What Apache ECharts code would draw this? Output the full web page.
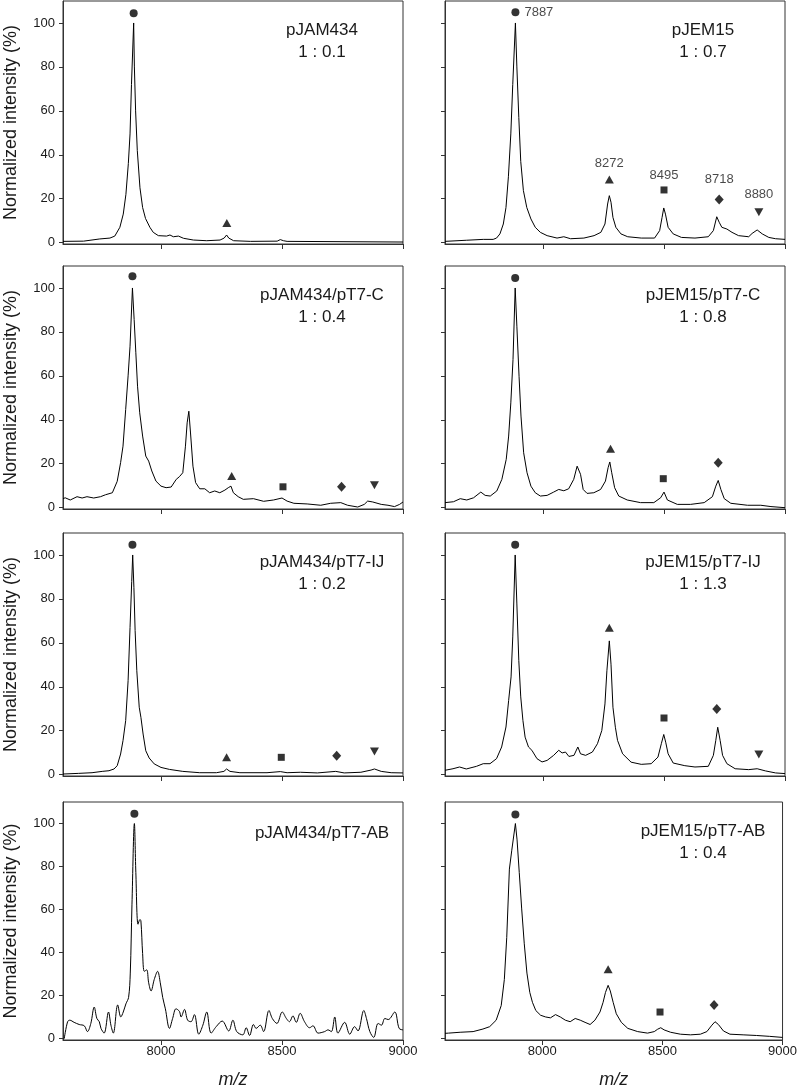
<!DOCTYPE html>
<html>
<head>
<meta charset="utf-8">
<script src="https://cdn.jsdelivr.net/npm/echarts@6/dist/echarts.min.js"></script>
<style>
html,body{margin:0;padding:0;background:#fff;}
#chart{width:800px;height:1090px;}
</style>
</head>
<body>
<div id="chart"></div>
<script>
// ---- Data (m/z, normalized intensity %) ----
const pJAM434 = [[7595,0.6],[7680,0.7],[7747,1.7],[7754,2.1],[7789,2.1],[7809,3],[7830,7],[7844,13],[7855,22],[7865,36],[7872,49.5],[7878,72],[7887,100],[7890,80],[7895,60],[7902,42],[7913,25],[7924,16],[7936,11],[7943,10.8],[7954,7],[7968,4.7],[7989,3.2],[8023,3],[8037,3.5],[8051,2.7],[8072,3],[8093,2],[8134,1.2],[8189,0.9],[8244,1.2],[8261,2.1],[8271,3.5],[8280,2.1],[8300,0.9],[8369,0.6],[8480,0.7],[8493,1.4],[8506,0.9],[8521,0.6],[9000,0.3]];
const pJEM15 = [[7595,0.6],[7683,1.1],[7753,1.5],[7794,1.5],[7808,2.1],[7822,4],[7836,8.5],[7847,16],[7857,30],[7867,49.5],[7875,72],[7886,100],[7892,80],[7900,57],[7908,37],[7919,23.7],[7933,16],[7950,10.8],[7968,7],[7989,4.7],[8017,3.2],[8058,2.1],[8086,2.7],[8114,1.8],[8169,2.1],[8211,3.2],[8239,4.7],[8256,8.5],[8267,17.6],[8274,21.4],[8281,18.4],[8289,11.5],[8301,7],[8322,4],[8350,2.7],[8406,2.1],[8461,2.1],[8482,5.5],[8492,11.5],[8499,15.8],[8506,13],[8517,7],[8538,4],[8572,2.4],[8628,2.1],[8683,2.7],[8704,5.5],[8718,11.8],[8728,9.3],[8739,7],[8760,6.2],[8781,4.7],[8808,3.2],[8850,2.7],[8864,4.2],[8885,5.8],[8906,4],[8933,2.4],[8961,1.8],[9000,1.5]];
const pJAM434_pT7C = [[7595,4.1],[7604,4.5],[7625,3.5],[7653,5],[7674,4.4],[7694,5],[7722,4.4],[7750,5],[7771,5.9],[7799,6.8],[7819,12],[7833,20.5],[7843,28],[7854,44.7],[7864,60],[7872,73.5],[7882,100],[7889,85.6],[7896,70.5],[7903,55.3],[7912,43.2],[7924,32.6],[7937,23.5],[7949,21.2],[7962,16.7],[7979,12.1],[8000,9.8],[8021,9.1],[8042,9.4],[8063,12.9],[8076,14.1],[8090,15.9],[8101,28],[8108,38.6],[8115,43.9],[8122,34],[8132,18.9],[8143,11.4],[8160,8.6],[8181,8.6],[8201,6.8],[8222,7.6],[8243,6.8],[8264,8],[8278,9.1],[8289,9.8],[8299,6.8],[8319,5],[8340,3.8],[8382,4.1],[8424,2.9],[8465,3.5],[8500,4.4],[8521,3],[8549,2],[8604,1.7],[8660,1.1],[8701,2],[8743,2.3],[8771,1.1],[8813,0.3],[8840,1.5],[8854,3],[8875,2.6],[8910,1.5],[8938,1.1],[8965,0.5],[8986,1.5],[9000,2.6]];
const pJEM15_pT7C = [[7595,2.3],[7630,2.7],[7658,4.1],[7685,3.5],[7713,4.5],[7743,7.1],[7761,5.6],[7782,5.3],[7809,7.6],[7830,12.9],[7848,22],[7858,32.6],[7867,47.7],[7876,67.4],[7885,100],[7892,82.6],[7901,59.8],[7909,41.7],[7920,25],[7934,15.9],[7950,9.8],[7968,6.8],[7989,5.3],[8017,5.6],[8044,7.1],[8065,8.3],[8086,7.7],[8106,8.6],[8127,12.9],[8141,18.9],[8148,19.7],[8155,15.2],[8166,8.3],[8182,6.5],[8210,6.8],[8238,8.3],[8258,12.1],[8269,18.2],[8276,20.8],[8284,15.9],[8296,9.1],[8313,5.3],[8348,3.5],[8403,2.3],[8458,2.3],[8486,4.5],[8500,7.1],[8514,3.5],[8555,1.5],[8610,1.5],[8666,2.3],[8700,5],[8714,9.8],[8724,12.4],[8735,8.3],[8749,4.1],[8776,2],[8845,1.1],[8900,1.1],[8942,0.5],[9000,0]];
const pJAM434_pT7IJ = [[7595,0.3],[7660,0.6],[7715,0.9],[7757,1.5],[7785,1.8],[7806,2.6],[7819,4.1],[7833,9.4],[7843,15.5],[7854,24.6],[7864,42.8],[7872,67],[7879,88],[7883,100],[7888,85.3],[7893,65.6],[7900,47.3],[7910,30.7],[7917,26.1],[7926,18.5],[7937,10.9],[7951,7.6],[7972,4.9],[8000,3.3],[8035,2.4],[8090,1.5],[8160,0.9],[8229,0.9],[8260,1.5],[8271,2.6],[8285,1.5],[8326,0.9],[8438,0.9],[8493,1.4],[8521,0.9],[8576,1.1],[8646,0.8],[8722,1.5],[8757,0.8],[8826,1.1],[8868,2.1],[8882,2.6],[8910,1.5],[8951,0.9],[9000,0.8]];
const pJEM15_pT7IJ = [[7595,2],[7628,2.7],[7655,3.5],[7683,2.6],[7725,3.8],[7753,5],[7781,5],[7808,7.3],[7829,12.6],[7847,21.7],[7858,33.8],[7868,44.5],[7875,62.7],[7885,100],[7892,77.7],[7900,51.9],[7908,35.4],[7917,24.7],[7926,17.1],[7940,12.6],[7954,11.1],[7975,7.3],[7996,5.8],[8017,6.5],[8044,8.8],[8065,11.1],[8079,9.9],[8093,10.3],[8107,8.3],[8128,8.8],[8144,12.6],[8155,9.5],[8176,8.8],[8204,10.3],[8225,14.1],[8243,20.1],[8256,32.2],[8264,47.3],[8274,60.9],[8281,50.3],[8289,30.7],[8299,21.6],[8308,15.6],[8329,9.5],[8364,5.7],[8406,4.7],[8447,5],[8475,8],[8489,14.1],[8499,18.3],[8507,14.8],[8517,9.5],[8538,5.3],[8586,4.1],[8628,3.5],[8683,3.8],[8704,8.8],[8714,15.6],[8722,21.6],[8732,15.6],[8742,8.8],[8760,5],[8794,2.7],[8850,2.3],[8885,2.7],[8920,1.7],[8961,0.8],[9000,0.5]];
const pJAM434_pT7AB = [[7600,0],[7614,7.9],[7623,8.6],[7641,7.6],[7662,6.6],[7683,6],[7696,3.3],[7710,7.1],[7724,14.7],[7735,9.4],[7745,7.9],[7752,4.8],[7765,2.6],[7783,12.4],[7793,6.3],[7803,2.6],[7821,15.7],[7834,10.1],[7844,12.4],[7855,16.2],[7866,19.2],[7873,30.5],[7880,62.2],[7890,100],[7896,77.3],[7905,53.2],[7913,55.4],[7917,54.7],[7924,39.6],[7931,31.3],[7941,32],[7949,26],[7959,22.2],[7972,27.5],[7986,31.3],[7997,26],[8007,19.2],[8018,13.9],[8035,4.8],[8048,9.4],[8062,13.9],[8076,12.7],[8083,10.1],[8097,13.6],[8110,8.6],[8124,7.9],[8138,11.2],[8156,2.1],[8173,6.3],[8189,12.4],[8207,2.6],[8228,5.6],[8253,8.2],[8280,3.6],[8297,8.6],[8313,3.3],[8338,1.8],[8352,5.1],[8366,1.5],[8382,6.6],[8393,4.8],[8410,6.3],[8424,3.3],[8446,13.1],[8460,9.4],[8479,7.1],[8501,12.4],[8518,9.4],[8531,7.9],[8545,10.6],[8559,7.6],[8575,11.8],[8593,7.9],[8614,5.1],[8628,6],[8649,2.6],[8676,3.3],[8690,4.1],[8704,3.3],[8718,10.1],[8731,2.6],[8759,7.6],[8780,2.1],[8800,5.6],[8814,3.6],[8838,13.1],[8849,9.4],[8863,3.3],[8879,0.6],[8897,7.1],[8911,6.3],[8925,9.4],[8939,8.9],[8966,12.4],[8984,4.8],[9000,4.1]];
const pJEM15_pT7AB = [[7595,2.5],[7610,2.6],[7658,3],[7712,3.3],[7753,4.5],[7781,5.6],[7808,8.6],[7829,15.4],[7842,27.5],[7852,47.1],[7863,78.8],[7873,87.6],[7881,88.2],[7888,100],[7895,92.4],[7904,77.3],[7914,60.7],[7925,44.1],[7936,30.5],[7948,21.5],[7959,16.9],[7973,13.1],[7993,10.9],[8014,10.1],[8034,9.7],[8055,11.2],[8075,10.1],[8096,8.6],[8116,7.9],[8137,9.4],[8158,8.6],[8178,7.6],[8199,6.6],[8219,8.6],[8240,12.4],[8253,16.9],[8263,21.5],[8274,24.8],[8283,22.2],[8295,16.9],[8308,11.6],[8329,7.6],[8356,4.8],[8397,3.3],[8438,2.6],[8466,3.3],[8480,4.4],[8493,5.1],[8507,4.1],[8534,3],[8575,2.1],[8617,1.8],[8658,2.1],[8685,3.3],[8706,6.3],[8719,7.9],[8733,6.6],[8754,3.6],[8781,2.1],[8836,1.8],[8891,1.5],[8945,1.1],[9000,0.6]];

// peak markers: [m/z, height, shape, label]
const mk_pJAM434 = [[7887,104.4,'circle'],[8272,9,'triangle']];
const mk_pJEM15 = [[7886,104.9,'circle','7887'],[8274,28.7,'triangle','8272'],[8500,24,'square','8495'],[8728,19.7,'diamond','8718'],[8892,13.8,'invtriangle','8880']];
const mk_pJAM434_pT7C = [[7882,105.3,'circle'],[8292,14.4,'triangle'],[8504,9.5,'square'],[8746,9.5,'diamond'],[8882,10.2,'invtriangle']];
const mk_pJEM15_pT7C = [[7885,104.5,'circle'],[8279,26.8,'triangle'],[8497,13.2,'square'],[8724,20.5,'diamond']];
const mk_pJAM434_pT7IJ = [[7882,104.7,'circle'],[8271,7.9,'triangle'],[8497,7.9,'square'],[8726,8.6,'diamond'],[8882,10.5,'invtriangle']];
const mk_pJEM15_pT7IJ = [[7885,104.7,'circle'],[8274,66.9,'triangle'],[8500,25.8,'square'],[8718,29.9,'diamond'],[8892,9.2,'invtriangle']];
const mk_pJAM434_pT7AB = [[7890,104.5,'circle']];
const mk_pJEM15_pT7AB = [[7888,104.2,'circle'],[8274,32.3,'triangle'],[8490,12.4,'square'],[8715,15.7,'diamond']];

const panelNames = ['pJAM434','pJEM15','pJAM434/pT7-C','pJEM15/pT7-C','pJAM434/pT7-IJ','pJEM15/pT7-IJ','pJAM434/pT7-AB','pJEM15/pT7-AB'];
const panelRatios = ['1 : 0.1','1 : 0.7','1 : 0.4','1 : 0.8','1 : 0.2','1 : 1.3','','1 : 0.4'];
const xTicks = [8000, 8500, 9000];
const yTicks = [0, 20, 40, 60, 80, 100];
const yTitle = 'Normalized intensity (%)';
const xTitle = 'm/z';

// ---- Layout / styling ----
const spectra = [pJAM434, pJEM15, pJAM434_pT7C, pJEM15_pT7C, pJAM434_pT7IJ, pJEM15_pT7IJ, pJAM434_pT7AB, pJEM15_pT7AB];
const markers = [mk_pJAM434, mk_pJEM15, mk_pJAM434_pT7C, mk_pJEM15_pT7C, mk_pJAM434_pT7IJ, mk_pJEM15_pT7IJ, mk_pJAM434_pT7AB, mk_pJEM15_pT7AB];
const FONT = '"Liberation Sans", Arial, Helvetica, sans-serif';
const rowTops = [1, 266, 533, 802];
const colLefts = [63, 445];
const GW = 340, GH = 243;
const TXT = '#1a1a1a', AX = '#333';
const shapeStyle = {
  circle: {symbol: 'circle', size: 8, rotate: 0},
  triangle: {symbol: 'triangle', size: [9, 8], rotate: 0},
  square: {symbol: 'rect', size: 7, rotate: 0},
  diamond: {symbol: 'diamond', size: [9, 10], rotate: 0},
  invtriangle: {symbol: 'triangle', size: [9, 8], rotate: 180}
};
const labelDist = {circle: 5, triangle: 6, square: 5, diamond: 8, invtriangle: 7};

const grids = [], xAxes = [], yAxes = [], series = [], graphics = [];
for (let i = 0; i < 8; i++) {
  const row = Math.floor(i / 2), col = i % 2;
  const left = colLefts[col], top = rowTops[row];
  const bottomRow = row === 3;
  grids.push({left: left, top: top, width: GW, height: GH, show: true, borderColor: AX, borderWidth: 1, backgroundColor: 'transparent', containLabel: false});
  xAxes.push({
    type: 'value', gridIndex: i, min: 7595, max: 9000,
    axisLine: {show: true, onZero: false, lineStyle: {color: AX, width: 1}},
    axisTick: {show: true, inside: false, length: 5, customValues: xTicks, lineStyle: {color: AX}},
    axisLabel: {show: bottomRow, customValues: xTicks, formatter: v => String(v), margin: 5, fontSize: 13, color: TXT, fontFamily: FONT},
    splitLine: {show: false},
    name: bottomRow ? xTitle : '', nameLocation: 'middle', nameGap: 31,
    nameTextStyle: {fontSize: 18, fontStyle: 'italic', color: TXT, fontFamily: FONT}
  });
  yAxes.push({
    type: 'value', gridIndex: i, min: -0.6, max: 110,
    axisLine: {show: true, onZero: false, lineStyle: {color: AX, width: 1}},
    axisTick: {show: true, inside: false, length: 4, customValues: yTicks, lineStyle: {color: AX}},
    axisLabel: {show: col === 0, customValues: yTicks, formatter: v => String(v), margin: 8, fontSize: 13, color: TXT, fontFamily: FONT},
    splitLine: {show: false},
    name: col === 0 ? yTitle : '', nameLocation: 'middle', nameGap: 43,
    nameTextStyle: {fontSize: 18, color: TXT, fontFamily: FONT}
  });
  series.push({
    type: 'line', xAxisIndex: i, yAxisIndex: i, data: spectra[i],
    showSymbol: false, symbol: 'none', smooth: i === 6 ? 0.35 : false,
    lineStyle: {color: '#000', width: 1}, silent: true, z: 2
  });
  series.push({
    type: 'scatter', xAxisIndex: i, yAxisIndex: i, z: 3, silent: true,
    data: markers[i].map(m => {
      const s = shapeStyle[m[2]];
      const item = {value: [m[0], m[1]], symbol: s.symbol, symbolSize: s.size, symbolRotate: s.rotate};
      if (m[3]) {
        item.label = {show: true, formatter: m[3], position: m[2] === 'circle' ? 'right' : 'top',
          distance: labelDist[m[2]], fontSize: 13, color: TXT, fontFamily: FONT};
      }
      return item;
    }),
    itemStyle: {color: '#000'}
  });
  const txt = panelRatios[i] ? panelNames[i] + '\n' + panelRatios[i] : panelNames[i];
  graphics.push({
    type: 'text', x: col === 0 ? 322 : 703, y: top + (panelRatios[i] ? 40 : 31),
    style: {text: txt, align: 'center', verticalAlign: 'middle', fontSize: 17, lineHeight: 22, fontFamily: FONT, fill: TXT}
  });
}

const chart = echarts.init(document.getElementById('chart'), null, {renderer: 'canvas'});
chart.setOption({
  animation: false,
  backgroundColor: '#fff',
  grid: grids, xAxis: xAxes, yAxis: yAxes, series: series,
  graphic: graphics
});
</script>
</body>
</html>
